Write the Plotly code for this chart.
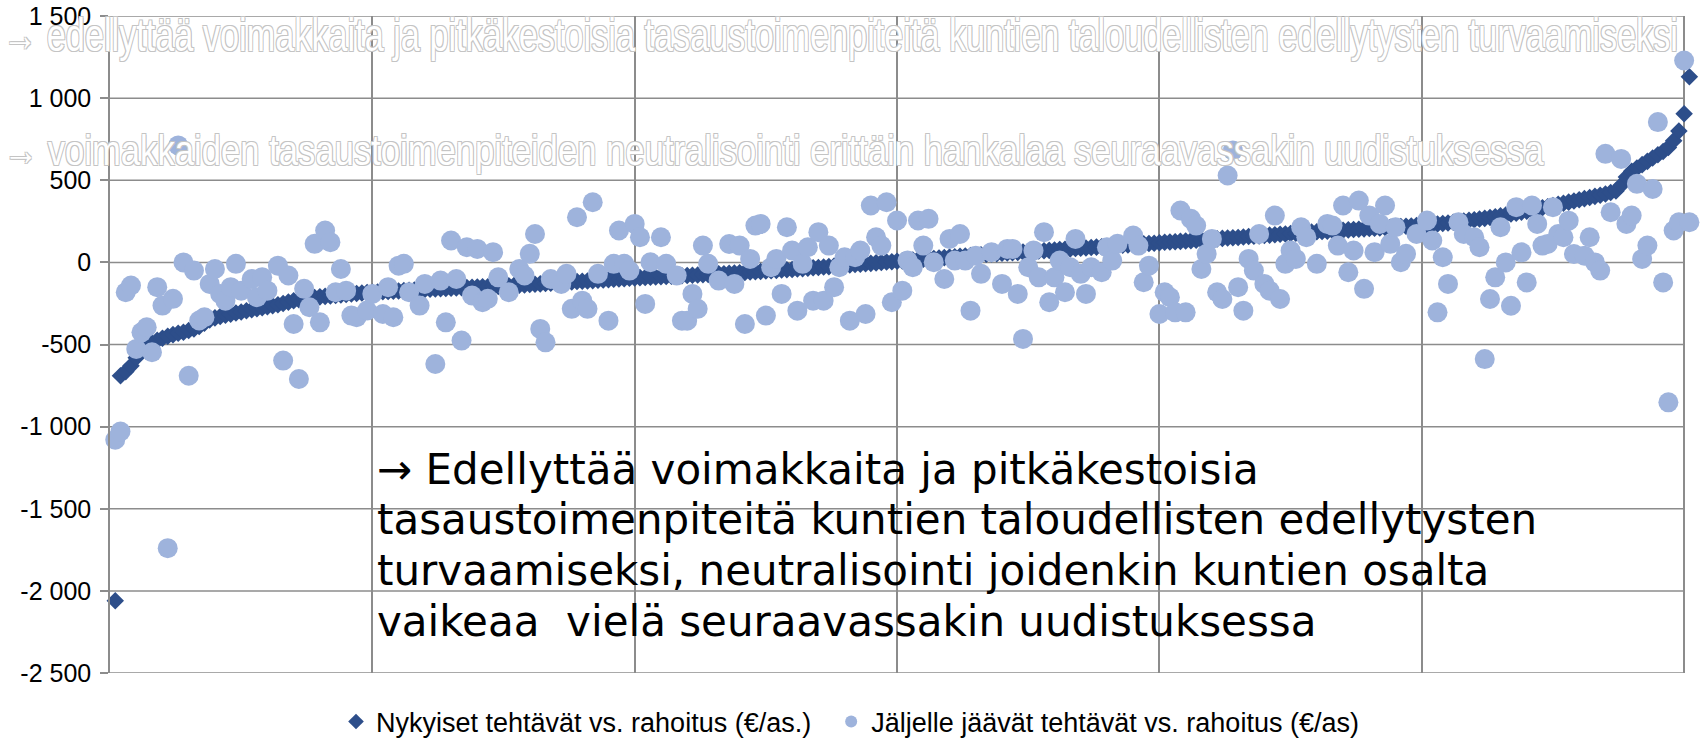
import plotly.graph_objects as go

# Series 1: Nykyiset tehtävät vs. rahoitus (€/as.) — sorted, x = 1..N
nykyiset = [
    -2060, -690, -665, -630, -580, -540, -510, -490, -475, -462,
    -450, -440, -432, -425, -415, -405, -390, -370, -350, -338,
    -330, -322, -315, -308, -302, -295, -288, -282, -276, -270,
    -264, -258, -250, -242, -234, -228, -222, -218, -214, -210,
    -207, -204, -201, -198, -195, -192, -189, -186, -184, -182,
    -180, -178, -177, -175, -174, -172, -170, -169, -167, -165,
    -164, -162, -161, -159, -158, -156, -155, -153, -152, -150,
    -149, -148, -147, -146, -145, -143, -141, -139, -137, -135,
    -133, -131, -129, -127, -125, -123, -121, -119, -117, -115,
    -113, -111, -109, -107, -105, -103, -101, -99, -97, -95,
    -93, -92, -90, -89, -87, -86, -84, -83, -81, -80,
    -78, -77, -75, -74, -72, -70, -69, -67, -65, -63,
    -61, -59, -57, -55, -53, -51, -49, -47, -45, -43,
    -40, -38, -36, -33, -31, -28, -26, -23, -21, -18,
    -16, -13, -11, -8, -6, -3, -1, 2, 4, 7,
    9, 12, 14, 17, 19, 22, 24, 27, 29, 32,
    34, 37, 39, 42, 44, 46, 49, 51, 53, 55,
    57, 59, 61, 63, 65, 67, 69, 71, 73, 75,
    78, 80, 82, 84, 86, 88, 91, 93, 95, 97,
    99, 101, 104, 106, 108, 110, 113, 115, 117, 120,
    122, 124, 126, 128, 130, 132, 135, 137, 139, 141,
    143, 146, 148, 150, 152, 155, 157, 159, 161, 164,
    166, 168, 171, 173, 176, 178, 180, 182, 184, 186,
    188, 190, 192, 194, 196, 198, 200, 202, 204, 206,
    208, 210, 212, 214, 216, 218, 220, 222, 224, 226,
    228, 231, 234, 237, 240, 244, 248, 252, 256, 260,
    264, 268, 273, 278, 283, 288, 294, 300, 306, 312,
    318, 325, 332, 339, 346, 353, 360, 367, 374, 381,
    388, 395, 402, 409, 416, 425, 435, 470, 520, 555,
    575, 595, 615, 635, 655, 675, 700, 740, 800, 905,
    1130,
]
nykyiset_x = list(range(1, len(nykyiset) + 1))

# Series 2: Jäljelle jäävät tehtävät vs. rahoitus (€/as)
jaljelle_x = [
    1, 2, 3, 4, 5, 6, 7, 8, 9, 10, 11, 12, 13, 14, 15, 16, 17, 18, 19, 20,
    21, 22, 23, 24, 25, 27, 28, 29, 30, 32, 33, 34, 35, 36, 37, 38, 39, 40,
    41, 42, 43, 44, 45, 46, 47, 49, 50, 52, 53, 54, 55, 56, 57, 59, 60,
    62, 63, 64, 65, 66, 67, 68, 69, 70, 71, 72, 73, 74, 76, 78, 79, 80,
    81, 82, 83, 84, 86, 87, 88, 89, 90, 91, 92, 93, 95, 96, 97, 98, 99, 100,
    101, 102, 103, 105, 106, 108, 109, 110, 111, 112, 113, 114, 116, 118,
    119, 120, 121, 122, 123, 124, 125, 126, 127, 128, 129, 130, 131, 132,
    133, 134, 135, 136, 137, 138, 139, 140, 141, 142, 143, 144, 145, 146,
    147, 148, 149, 150, 151, 152, 153, 154, 155, 156, 157, 159, 160, 161,
    162, 163, 164, 165, 166, 168, 170, 171, 172, 173, 174, 175, 176, 177,
    178, 179, 180, 181, 182, 183, 184, 185, 186, 187, 189, 190, 191, 192,
    195, 196, 197, 198, 200, 201, 202, 203, 204, 205, 206, 207, 208, 209,
    210, 211, 212, 213, 214, 215, 216, 217, 218, 219, 220, 221, 222, 223,
    224, 225, 226, 227, 228, 230, 232, 233, 234, 235, 236, 237, 238, 239,
    240, 241, 242, 243, 244, 245, 246, 247, 249, 251, 252, 253, 254, 255,
    257, 258, 260, 261, 262, 263, 264, 265, 266, 267, 268, 269, 270, 271,
    272, 273, 274, 275, 276, 277, 278, 279, 281, 282, 283, 284, 285, 286,
    288, 289, 290, 291, 292, 293, 294, 295, 296, 297, 298, 299, 300, 301,
]
jaljelle = [
    -1080, -1030, -182, -141, -527, -426, -395, -547, -151, -263, -1740, -222, 712, 0, -690, -50, -354, -334, -131, -40,
    -192, -233, -151, -9, -172, -101, -212, -90, -172, -20, -598, -80, -375, -710, -161, -273, 113, -365,
    194, 123, -182, -40, -172, -324, -334, -293, -192, -314, -151, -334, -20, -9, -182, -263, -131,
    -619, -111, -365, 133, -101, -476, 92, -202, 82, -243, -222, 62, -91, -182, -40, -80, 52,
    173, -405, -487, -101, -131, -70, -283, 275, -233, -283, 366, -70, -355, -9, 194, -9, -50, 234,
    153, -253, 1, 153, -9, -80, -355, -355, -192, -283, 102, -9, -111, 112,
    -131, 102, -375, 21, 224, 234, -324, -30, 21, -192, 214, 72, -294, -9,
    92, -233, 184, -233, 102, -151, -30, 31, -355, 31, 72, -314, 346, 153,
    102, 366, -243, 255, -172, 11, -30, 255, 102, 265, 1, -101, 143, 11,
    173, 11, -294, 41, -70, 62, -131, 82, 82, -192, -466, -30, 72, -91,
    184, -243, -91, 11, -182, -30, 143, -70, -192, -30, -60, 92, 11, 113,
    163, 102, -121, -20, -314, -182, -212, -304, 316, -304, 265, 224, -40, 52,
    143, -182, -223, 529, 681, -151, -294, 21, -50, 173, -131, -172, 285, -223,
    -9, 72, 21, 214, 153, -9, 234, 224, 102, 346, -60, 72, 376, -161,
    285, 62, 234, 346, 113, 214, 1, 52, 173, 255, 133, -304, 31, -131,
    244, 173, 153, 92, -589, -223, -91, 214, 0, -264, 336, 61, -122, 346,
    234, 102, 112, 336, 173, 153, 254, 51, 41, 153, 0, -50, 661, 305,
    630, 234, 285, 478, 21, 102, 447, 854, -122, -852, 194, 244, 1229, 244,
]

series_names = ["Nykyiset tehtävät vs. rahoitus (€/as.)\u00a0\u00a0",
                "Jäljelle jäävät tehtävät vs. rahoitus (€/as)"]

y_tickvals = [1500, 1000, 500, 0, -500, -1000, -1500, -2000, -2500]
y_ticktext = ["1 500", "1 000", "500", "0", "-500", "-1 000", "-1 500", "-2 000", "-2 500"]
x_grid_max = 300

ghost_line1 = "→ edellyttää voimakkaita ja pitkäkestoisia tasaustoimenpiteitä kuntien taloudellisten edellytysten turvaamiseksi"
ghost_line2 = "→ voimakkaiden tasaustoimenpiteiden neutralisointi erittäin hankalaa seuraavassakin uudistuksessa"
box_lines = [
    "→ Edellyttää voimakkaita ja pitkäkestoisia",
    "tasaustoimenpiteitä kuntien taloudellisten edellytysten",
    "turvaamiseksi, neutralisointi joidenkin kuntien osalta",
    "vaikeaa  vielä seuraavassakin uudistuksessa",
]

DARK = "#2D4E8A"
LIGHT = "#9EB3DC"
GRID = "#8C8C8C"

W, H = 1703, 740
ML, MT, MB = 110, 16, 67
X_MAX = 301.5
# plot width chosen so that x=300 sits at pixel 1684
PW = (1684 - ML) * X_MAX / x_grid_max
MR = W - ML - PW
PH = H - MT - MB


def px_to_paper_x(px):
    return (px - ML) / PW


def px_to_paper_y(py):
    return (H - MB - py) / PH


fig = go.Figure()
fig.add_trace(go.Scatter(
    x=nykyiset_x, y=nykyiset, mode="markers", name=series_names[0],
    marker=dict(symbol="diamond", size=13.5, color=DARK, line=dict(width=0)),
    cliponaxis=False,
))
fig.add_trace(go.Scatter(
    x=jaljelle_x, y=jaljelle, mode="markers", name=series_names[1],
    marker=dict(symbol="circle", size=20, color=LIGHT, line=dict(width=0)),
    cliponaxis=False,
))

# horizontal gridlines stopping at the last category gridline
shapes = [dict(type="line", xref="x", yref="y", x0=0, x1=x_grid_max, y0=v, y1=v,
               line=dict(color=GRID, width=1.5), layer="below") for v in y_tickvals]

outline = "1px 1px 0 #c4c4c4, -1px -1px 0 #c4c4c4, 1px -1px 0 #c4c4c4, -1px 1px 0 #c4c4c4"
annotations = [
    dict(text=ghost_line1, xref="paper", yref="paper", x=px_to_paper_x(1), y=px_to_paper_y(35),
         xanchor="left", yanchor="middle", showarrow=False,
         font=dict(family="Liberation Sans, Arial", size=46, color="white", shadow=outline)),
    dict(text=ghost_line2, xref="paper", yref="paper", x=px_to_paper_x(1), y=px_to_paper_y(150),
         xanchor="left", yanchor="middle", showarrow=False,
         font=dict(family="Liberation Sans, Arial", size=43, color="white", shadow=outline)),
]
centers = [469, 519.7, 570.4, 621]
for line, cy in zip(box_lines, centers):
    annotations.append(dict(
        text=line, xref="paper", yref="paper", x=px_to_paper_x(375), y=px_to_paper_y(cy),
        xanchor="left", yanchor="middle", showarrow=False,
        font=dict(family="DejaVu Sans, Verdana", size=42, color="black"),
    ))

fig.update_layout(
    width=W, height=H,
    margin=dict(l=ML, r=MR, t=MT, b=MB, autoexpand=False),
    paper_bgcolor="white", plot_bgcolor="white",
    font=dict(family="Liberation Sans, Arial", color="black"),
    showlegend=True,
    legend=dict(orientation="h", xref="container", yref="container",
                x=336 / W, xanchor="left", y=(H - 722) / H, yanchor="middle",
                itemsizing="constant",
                font=dict(family="Liberation Sans, Arial", size=27, color="black"),
                bgcolor="rgba(0,0,0,0)"),
    annotations=annotations,
    shapes=shapes,
    xaxis=dict(range=[0, X_MAX], dtick=50, tick0=0, showticklabels=False, ticks="",
               showgrid=True, gridcolor=GRID, gridwidth=1.5, zeroline=False, showline=False),
    yaxis=dict(range=[-2500, 1500], tickvals=y_tickvals, ticktext=y_ticktext,
               showgrid=False, zeroline=False, automargin=False,
               showline=True, linecolor=GRID, linewidth=1.5,
               ticks="outside", ticklen=8, tickcolor=GRID, tickwidth=1.5,
               ticklabelstandoff=4,
               tickfont=dict(family="Liberation Sans, Arial", size=25, color="black")),
)

post_js = """
document.body.style.margin = '0';
var gd = document.getElementById('{plot_id}');
var targets = [['kuntien taloudellisten edellytysten turvaamiseksi', 1675],
               ['neutralisointi erit', 1541]];
gd.querySelectorAll('text.annotation-text').forEach(function(el){
  var t = el.textContent || '';
  targets.forEach(function(p){
    if (t.indexOf(p[0]) >= 0) {
      var w = el.getBBox().width;
      if (w > 0) {
        el.style.transformBox = 'fill-box';
        el.style.transformOrigin = '0% 50%';
        el.style.transform = 'scaleX(' + (p[1] / w) + ')';
      }
    }
  });
});
"""

fig.write_html("out.html", post_script=post_js, config={"displayModeBar": False})
